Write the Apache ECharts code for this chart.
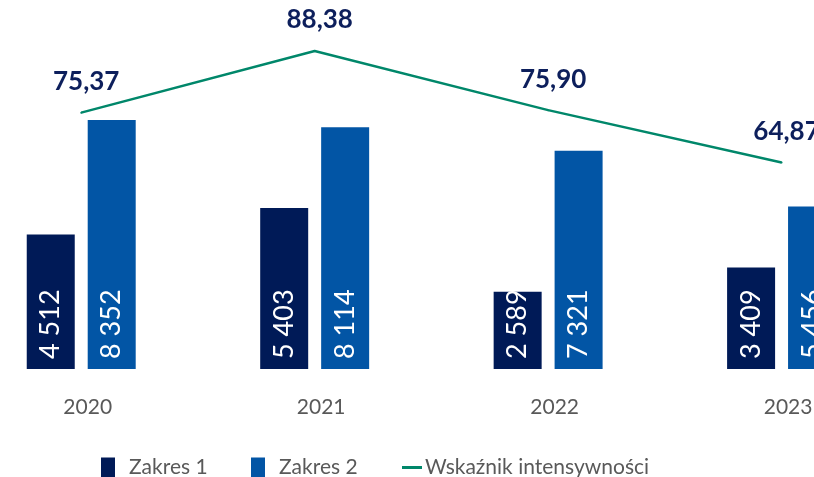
<!DOCTYPE html>
<html>
<head>
<meta charset="utf-8">
<script src="https://cdn.jsdelivr.net/npm/echarts@6/dist/echarts.min.js"></script>
<style>
html,body{margin:0;padding:0;background:#fff;overflow:hidden;}
#chart{width:814px;height:477px;}
</style>
</head>
<body>
<div id="chart"></div>
<script>
const categories = ['2020', '2021', '2022', '2023'];
const zakres1 = [4512, 5403, 2589, 3409];
const zakres2 = [8352, 8114, 7321, 5456];
const wskaznik = [75.37, 88.38, 75.90, 64.87];
const seriesNames = ['Zakres 1', 'Zakres 2', 'Wskaźnik intensywności'];

const fmtInt = v => String(v).replace(/\B(?=(\d{3})+(?!\d))/g, ' ');
const fmtDec = v => v.toFixed(2).replace('.', ',');

const chart = echarts.init(document.getElementById('chart'));
const legendText = {color: '#595959', fontSize: 21, fontFamily: 'Lato'};
chart.setOption({
  animation: false,
  textStyle: {fontFamily: 'Lato'},
  grid: {left: -35.5, right: -84.3, top: 40, bottom: 108, containLabel: false, outerBoundsMode: 'none'},
  legend: [
    {data: [seriesNames[0]], left: 101, top: 457, padding: 0, itemWidth: 14, itemHeight: 20, icon: 'rect',
     textStyle: Object.assign({padding: [0, 0, 0, 9]}, legendText)},
    {data: [seriesNames[1]], left: 251, top: 457, padding: 0, itemWidth: 14, itemHeight: 20, icon: 'rect',
     textStyle: Object.assign({padding: [0, 0, 0, 9]}, legendText)},
    {data: [seriesNames[2]], left: 402, top: 457, padding: 0, itemWidth: 20, itemHeight: 20, icon: 'path://M0,8.5H20V11.5H0Z',
     itemStyle: {color: '#00876A', opacity: 1},
     textStyle: Object.assign({padding: [0, 0, 0, -2]}, legendText)}
  ],
  xAxis: {
    type: 'category',
    data: categories,
    axisLine: {show: false},
    axisTick: {show: false},
    axisLabel: {color: '#595959', fontSize: 21, fontFamily: 'Lato', margin: 28, padding: [0, 0, 0, 13]}
  },
  yAxis: [
    {type: 'value', min: 0, max: 11040, show: false, splitLine: {show: false}},
    {type: 'value', min: 21.29, max: 90.70, show: false, splitLine: {show: false}}
  ],
  series: [
    {
      name: seriesNames[0], type: 'bar', data: zakres1, barWidth: 48, barGap: '27%',
      itemStyle: {color: '#001A57'},
      label: {show: true, position: 'insideBottom', rotate: 90, align: 'left', verticalAlign: 'middle',
              distance: 10, color: '#ffffff', fontSize: 27, fontFamily: 'Lato', formatter: p => fmtInt(p.value)}
    },
    {
      name: seriesNames[1], type: 'bar', data: zakres2, barWidth: 48, barGap: '27%',
      itemStyle: {color: '#0255A5'},
      label: {show: true, position: 'insideBottom', rotate: 90, align: 'left', verticalAlign: 'middle',
              distance: 10, color: '#ffffff', fontSize: 27, fontFamily: 'Lato', formatter: p => fmtInt(p.value)}
    },
    {
      name: seriesNames[2], type: 'line', yAxisIndex: 1, data: wskaznik,
      symbol: 'circle', symbolSize: 2, showSymbol: true,
      lineStyle: {color: '#00876A', width: 2.5}, itemStyle: {color: '#00876A'},
      label: {show: true, position: 'top', distance: 17, offset: [5, 0], color: '#0D1F5C', fontSize: 26,
              fontWeight: 'bold', fontFamily: 'Lato', formatter: p => fmtDec(p.value)}
    }
  ]
});
</script>
</body>
</html>
